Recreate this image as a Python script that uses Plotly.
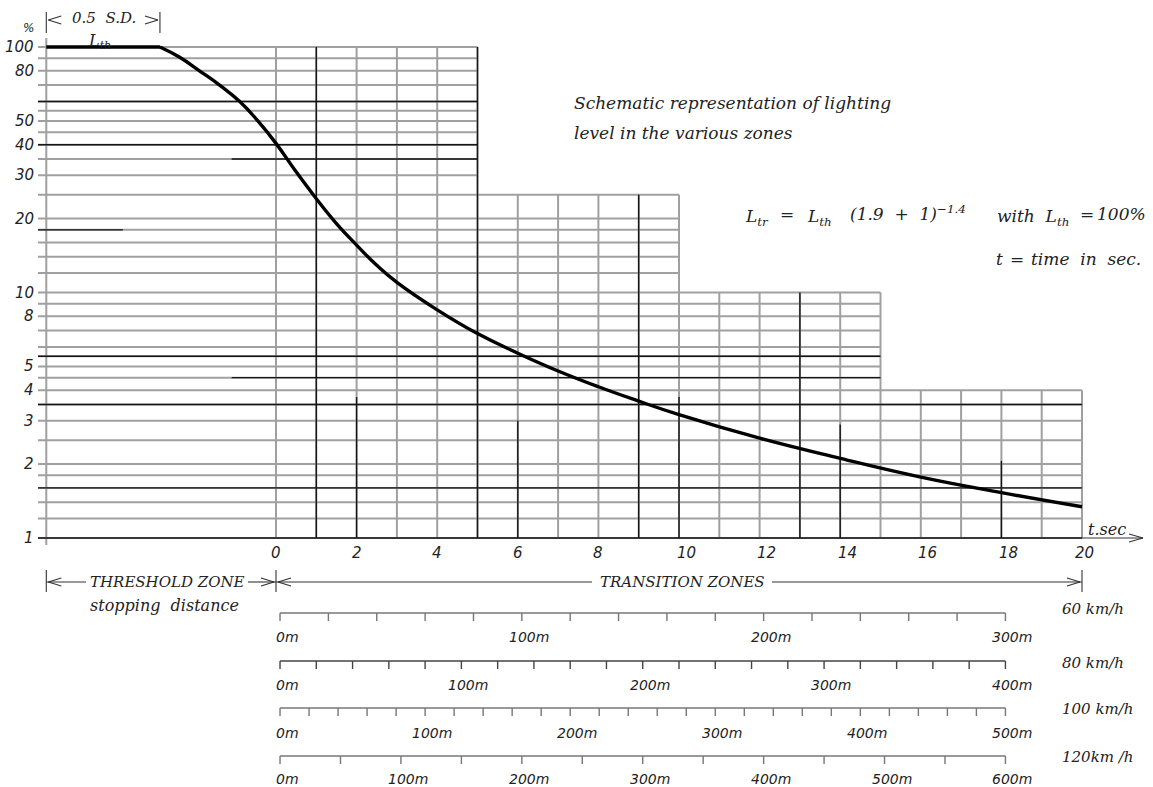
import math
import plotly.graph_objects as go

# ---------------- data ----------------
time_ticks = [0, 2, 4, 6, 8, 10, 12, 14, 16, 18, 20]
time_grid = list(range(0, 21))
pct_labels = [1, 2, 3, 4, 5, 8, 10, 20, 30, 40, 50, 80, 100]
grid_levels = [1, 1.2, 1.4, 1.6, 1.8, 2, 2.5, 3, 3.5, 4, 4.5, 5, 5.5, 6, 7, 8, 9,
               10, 12, 14, 16, 18, 20, 25, 30, 35, 40, 45, 50, 55, 60, 70, 80, 90, 100]
black_levels = [1, 1.6, 3.5, 5.5, 40, 60]
black_partial_levels = [(4.5, -1.1, None), (35, -1.1, None), (18, None, -3.8)]
zone_end_t = [5, 10, 15, 20]
zone_top_pct = [100, 25, 10, 4]
black_full_t = [1, 5, 9, 13]
black_lower_t = [2, 6, 10, 14, 18]
black_lower_top = [3.75, 3.0, 3.75, 2.9, 2.06]

threshold_start_t = -5.7
curve_start_t = -2.88          # end of "0.5 S.D."
curve_t = [-2.88, -2.4, -1.9, -1.4, -0.9, -0.45, 0, 0.5, 1, 1.5, 2, 2.5, 3, 4, 5,
           6, 7, 8, 9, 10, 12, 14, 16, 18, 20]
curve_pct = [100, 91, 80, 70, 60, 50, 40.5, 31, 24.1, 19.1, 15.6, 12.9, 11.0, 8.5, 6.8,
             5.66, 4.79, 4.13, 3.61, 3.18, 2.55, 2.11, 1.77, 1.53, 1.34]

speeds_kmh = [60, 80, 100, 120]
speed_labels = ["60\u00a0km/h", "80\u00a0km/h", "100\u00a0km/h", "120km\u00a0/h"]
scale_max_m = [300, 400, 500, 600]
scale_minor_m = [20, 20, 20, 50]
scale_label_step_m = [100, 100, 100, 100]

# ---------------- layout helpers (pixel geometry) ----------------
W, H = 1153, 787
T0_PX, PX_PER_S = 276.0, 40.3
Y1_PX, PX_PER_DEC = 538.0, 245.5


def T(px):
    return (px - T0_PX) / PX_PER_S


def PX(t):
    return T0_PX + t * PX_PER_S


GRAY = "#a0a0a0"
BLACK = "#151515"
NUM_FONT = dict(family="DejaVu Sans", size=15, color="#222")
TXT_FONT = dict(family="DejaVu Serif", size=15, color="#222")
BIG_FONT = dict(family="DejaVu Serif", size=17, color="#222")

fig = go.Figure()


def add_segments(segs, color, width, yaxis="y"):
    xs, ys = [], []
    for (x0, y0, x1, y1) in segs:
        xs += [x0, x1, None]
        ys += [y0, y1, None]
    fig.add_trace(go.Scatter(x=xs, y=ys, mode="lines", yaxis=yaxis,
                             line=dict(color=color, width=width),
                             hoverinfo="skip", showlegend=False))


def zone_top(t):
    for e, top in zip(zone_end_t, zone_top_pct):
        if t <= e:
            return top
    return zone_top_pct[-1]


def level_end(v):
    return max(e for e, top in zip(zone_end_t, zone_top_pct) if top >= v)


grid_left = T(38)

# ---- grey grid ----
gray_segs = []
for v in grid_levels:
    gray_segs.append((grid_left, v, level_end(v), v))
for t in time_grid:
    gray_segs.append((t, 1, t, zone_top(t)))
gray_segs.append((threshold_start_t, 10 ** (-7 / PX_PER_DEC), threshold_start_t,
                  10 ** (2 + 9 / PX_PER_DEC)))
add_segments(gray_segs, GRAY, 2)

# ---- black grid ----
black_segs = []
for v in black_levels:
    black_segs.append((grid_left, v, level_end(v), v))
for v, a, b in black_partial_levels:
    black_segs.append((grid_left if a is None else a, v, level_end(v) if b is None else b, v))
for t in black_full_t:
    black_segs.append((t, 1, t, zone_top(t)))
for t, top in zip(black_lower_t, black_lower_top):
    black_segs.append((t, 1, t, top))
add_segments(black_segs, BLACK, 1.4)

# ---- threshold level + transition curve ----
fig.add_trace(go.Scatter(x=[threshold_start_t, curve_start_t], y=[100, 100], mode="lines",
                         line=dict(color="#000", width=3.4), hoverinfo="skip", showlegend=False))
fig.add_trace(go.Scatter(x=curve_t, y=curve_pct, mode="lines",
                         line=dict(color="#000", width=3.4, shape="spline", smoothing=1.3),
                         hoverinfo="skip", showlegend=False))

annotations = []


def txt(x, y, s, font, xref="x", yref="y2", xanchor="left", yanchor="middle", pad=1):
    annotations.append(dict(x=x, y=y, xref=xref, yref=yref, text=s, showarrow=False,
                            font=font, xanchor=xanchor, yanchor=yanchor, borderpad=pad))


# y tick labels
for v in pct_labels:
    txt(T(36), math.log10(v), "<i>%g</i>" % v, NUM_FONT, yref="y", xanchor="right")
txt(T(28), 28, "<i>%</i>", dict(NUM_FONT, size=12), xanchor="center")
# x tick labels (two-digit labels sit slightly right of their grid line)
for t in time_ticks:
    shift = 0 if t < 10 else (2 if t == 20 else 7)
    txt(T(PX(t) + shift), 553, "<i>%d</i>" % t, NUM_FONT, xanchor="center")
txt(T(1086), 529, "<i>t.sec</i>", dict(TXT_FONT, size=16))

# ---- decorative lines on pixel rows (y2) ----
deco = []


def chev(tip_px, y, direction, L=13, h=4):
    # direction=-1 -> "<" ; +1 -> ">"
    base = tip_px - direction * L
    deco.append((T(base), y - h, T(tip_px), y))
    deco.append((T(tip_px), y, T(base), y + h))


# 0.5 S.D. dimension
for p in (PX(threshold_start_t), PX(curve_start_t)):
    deco.append((T(p), 12, T(p), 33))
chev(PX(threshold_start_t) + 2, 20, -1)
chev(PX(curve_start_t) - 2, 20, +1)
txt(T(104), 18, "<i>0.5\u00a0 S.D.</i>", TXT_FONT, xanchor="center", pad=0)
txt(T(99), 41, "<i>L<sub>th</sub></i>", dict(BIG_FONT, size=16), xanchor="center", pad=0)

# baseline arrow extension
deco.append((20, 538, T(1143), 538))
chev(1143, 538, +1, L=14, h=4)

# zone dimension row
zy = 582
for t in (threshold_start_t, 0, 20):
    deco.append((t, zy - 12, t, zy + 10))
deco.append((threshold_start_t, zy, T(86), zy))
chev(PX(threshold_start_t) + 2, zy, -1)
deco.append((T(248), zy, 0, zy))
chev(PX(0) - 2, zy, +1)
deco.append((0, zy, T(592), zy))
chev(PX(0) + 2, zy, -1)
deco.append((T(772), zy, 20, zy))
chev(PX(20) - 2, zy, +1)
add_segments(deco, "#333", 1.1, yaxis="y2")
txt(T(167), zy, "<i>THRESHOLD ZONE</i>", TXT_FONT, xanchor="center")
txt(T(682), zy, "<i>TRANSITION ZONES</i>", TXT_FONT, xanchor="center")
txt(T(164), 605, "<i>stopping\u00a0 distance</i>", dict(TXT_FONT, size=16), xanchor="center")

# ---- distance scales ----
row_line_y = [613, 661, 708, 756]
row_label_y = [637, 685, 733, 779]
row_speed_y = [609, 663, 709, 757]
scale_offset_t = 0.1
for v, dmax, dmin, dlab, ly, lby, sy, slab in zip(speeds_kmh, scale_max_m, scale_minor_m,
                                                   scale_label_step_m, row_line_y, row_label_y,
                                                   row_speed_y, speed_labels):
    mps = v / 3.6
    segs = [(scale_offset_t, ly, scale_offset_t + dmax / mps, ly)]
    d = 0
    while d <= dmax + 1e-9:
        tt = scale_offset_t + d / mps
        segs.append((tt, ly, tt, ly + 8))
        d += dmin
    add_segments(segs, "#444" if v == 80 else "#777", 1.4, yaxis="y2")
    d = 0
    while d <= dmax + 1e-9:
        tt = scale_offset_t + d / mps
        txt(T(PX(tt) + 7), lby, "<i>%dm</i>" % d, dict(NUM_FONT, size=14), xanchor="center")
        d += dlab
    txt(T(1060), sy, "<i>%s</i>" % slab, TXT_FONT)

# ---- explanatory text ----
txt(T(572), 103, "<i>Schematic representation of lighting</i>", BIG_FONT)
txt(T(572), 133, "<i>level in the various zones</i>", BIG_FONT)
fy = 214
txt(T(743), fy + 3, "<i>L<sub>tr</sub></i>", BIG_FONT)
txt(T(787), fy, "<i>=</i>", BIG_FONT, xanchor="center")
txt(T(805), fy + 3, "<i>L<sub>th</sub></i>", BIG_FONT)
txt(T(848), fy - 1, "<i>(1.9\u00a0 +\u00a0 1)<sup>\u22121.4</sup></i>", BIG_FONT)
txt(T(995), fy + 3, "<i>with\u00a0 L<sub>th</sub></i>", BIG_FONT)
txt(T(1087), fy, "<i>=</i>", BIG_FONT, xanchor="center")
txt(T(1148), fy, "<i>100%</i>", BIG_FONT, xanchor="right")
ty = 259
txt(T(994), ty, "<i>t</i>", BIG_FONT)
txt(T(1017), ty, "<i>=</i>", BIG_FONT, xanchor="center")
txt(T(1143), ty, "<i>time\u00a0 in\u00a0 sec.</i>", BIG_FONT, xanchor="right")

fig.update_layout(
    width=W, height=H, autosize=False,
    margin=dict(l=0, r=0, t=0, b=0, pad=0),
    paper_bgcolor="white", plot_bgcolor="white",
    xaxis=dict(range=[T(0), T(W)], visible=False, fixedrange=True),
    yaxis=dict(type="log", range=[-(H - Y1_PX) / PX_PER_DEC, Y1_PX / PX_PER_DEC],
               visible=False, fixedrange=True),
    yaxis2=dict(range=[H, 0], overlaying="y", visible=False, fixedrange=True),
    annotations=annotations,
    showlegend=False,
)

fig.write_html("out.html", config={"displayModeBar": False},
               post_script="document.body.style.margin='0';")
